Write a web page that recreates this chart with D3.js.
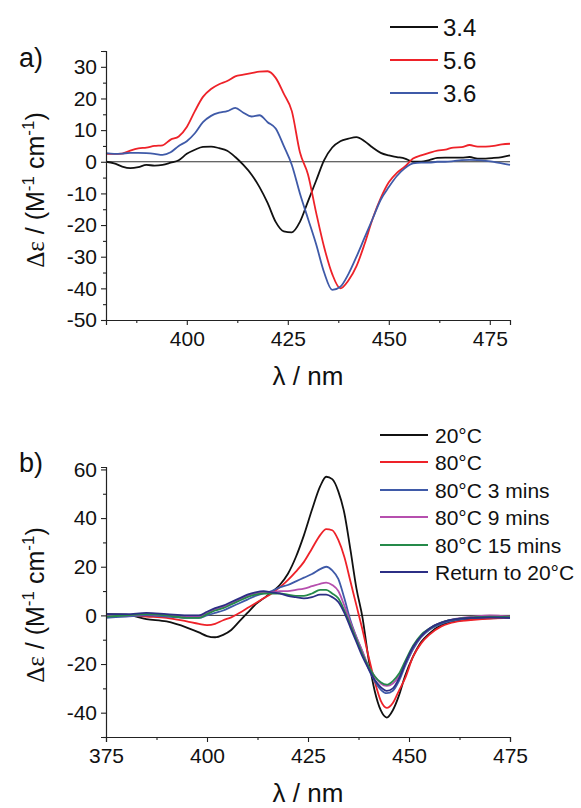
<!DOCTYPE html>
<html>
<head>
<meta charset="utf-8">
<script src="https://cdn.jsdelivr.net/npm/d3@7"></script>
<style>
  body { margin: 0; background: #fff; }
  svg text { font-family: "Liberation Sans", Arial, sans-serif; fill: #111; }
</style>
</head>
<body>
<svg id="chart" width="581" height="808"></svg>
<script>
// ---- panel a data (wavelength in nm, delta epsilon) ----
const wlA = [380,382,384,386,388,390,392,394,396,398,400,402,404,406,408,410,412,414,416,418,
  420,422,424,426,428,430,432,434,436,438,440,442,444,446,448,450,452,454,456,458,
  460,462,464,466,468,470,472,474,476,478,480];
const a34 = [0,-0.5,-1.5,-2,-1.7,-1,-1.2,-1,-0.3,0.5,2.5,3.8,4.7,4.8,4.3,3.5,1.5,-1,-4,-8,
  -13,-19,-22,-22.3,-19,-12.5,-6,0.5,4.5,6.5,7.3,7.8,6.5,4.5,2.8,2,1.5,1,0,0,
  0.5,1.2,1.3,1.3,1.3,1.5,1,1,1.2,1.5,2];
const a56 = [2.5,2.5,2.6,3.5,4.2,4.5,5,5.2,7,8,11,16,20.5,23,24.5,25.5,27,27.5,28,28.5,
  28.6,26.5,21.5,16,3,-4,-16,-27,-35.5,-40,-37.5,-33,-26,-18,-11.5,-6.5,-3.5,-1.5,1,2,
  2.8,3.5,3.8,4.5,4.6,5.3,4.8,4.8,5,5.5,5.7];
const a36 = [2.7,2.5,2.6,2.8,2.8,2.7,2.5,2.2,3,5,6.5,9,12.5,14.5,15.5,16,17,15.5,14.3,14.7,
  12.5,10.5,5,-1,-10,-18,-26,-35,-40.5,-39.5,-35.5,-30,-24,-18,-12,-8,-4.5,-2,-0.5,-0.3,
  -0.3,0,0,0.2,0.5,0.6,0.5,0.3,0,-0.5,-1];
const namesA = ["3.4", "5.6", "3.6"];
const colorsA = ["#111111", "#ee2229", "#3f5aa8"];

// ---- panel b data ----
const wlB = [375,380,385,390,395,398,400,402,404,406,408,410,412,414,416,418,420,422,424,426,
  428,429.5,431,432.5,434,435.5,437,438.5,440,441.5,443,444.5,446,447.5,449,451,453,455,458,460,
  463,466,470,475];
const b20 = [0.5,0.3,-1.5,-2.5,-5,-7,-8.5,-9,-8,-6,-2.5,1,4.5,7,9.5,12.5,17,24,33,43.5,
  53,57,56,51,42,27,11,-1,-18,-31,-39,-42,-39,-33,-25,-17,-11,-7.5,-4,-2.8,
  -2,-1.5,-1.2,-1];
const b80 = [0,0,-0.5,-1,-2.5,-3.5,-4,-3.5,-2,-0.8,1,3,5,7,9,11.5,14.5,18,22,27.5,
  33,35.5,35,31,24,14,4,-6,-17,-27,-35,-38,-36,-31,-26,-17,-11.5,-8,-4.5,-3.3,
  -2.3,-1.8,-1.3,-1];
const b80m3 = [-1,-0.5,0,-0.5,-1,-1,0,1,2,3.5,5,6.5,8,9,10,11.5,12.5,14,15.5,17,
  19,20,18.5,15,7,-2,-9,-15,-22,-27,-30.5,-32,-31,-27,-21,-14,-9,-6,-3.5,-2.5,
  -1.5,-1,-0.8,-1];
const b80m9 = [0,0,0.5,0,-0.5,-0.5,1,2.5,3.5,5,6.5,8,9,9.5,9.5,10,10,10.5,11,12,
  13,13.5,12.5,10,4,-3,-9,-15,-21,-25,-28,-29,-28,-25,-20,-13,-8.5,-5.5,-3,-2,
  -1,-0.5,0,-0.5];
const b80m15 = [-0.5,0,0.5,0,-1,-1,0.5,2,3,4.5,6,7.5,8.5,9,9,9,8.5,8,8,9,
  10.5,10.5,9,7,2,-4,-10,-16,-21,-25,-27.5,-28.5,-27,-24,-19,-12.5,-8,-5.5,-3,-2,
  -1.2,-0.8,-0.5,-0.7];
const bRet = [0.5,0.5,1,0.5,0,0,1.5,3,4,5.5,7,8.5,9.5,10,9.5,9,8,7.5,7,7.5,
  8.5,8.5,7.5,5.5,1,-5,-11,-17,-22,-26.5,-29.5,-31,-30,-26,-20,-13,-8.5,-5.5,-3,-2,
  -1.3,-1,-0.8,-1];
const namesB = ["20°C", "80°C", "80°C 3 mins", "80°C 9 mins", "80°C 15 mins", "Return to 20°C"];
const colorsB = ["#111111", "#ee2229", "#3f5aa8", "#b64fae", "#258a4a", "#2c2f85"];

// tick values
const xTicksA = [400, 425, 450, 475];
const xMinorA = [387.5, 412.5, 437.5, 462.5];
const yTicksA = [-50, -40, -30, -20, -10, 0, 10, 20, 30];
const yMinorA = [-45, -35, -25, -15, -5, 5, 15, 25, 35];
const xTicksB = [375, 400, 425, 450, 475];
const xMinorB = [387.5, 412.5, 437.5, 462.5];
const yTicksB = [-40, -20, 0, 20, 40, 60];
const yMinorB = [-50, -30, -10, 10, 30, 50];

const svg = d3.select("#chart");

function drawPanel(opt) {
  const g = svg.append("g");
  const x = d3.scaleLinear().domain(opt.xDomain).range([106, 510]);
  const y = d3.scaleLinear().domain(opt.yDomain).range([opt.bottom, opt.top]);

  // zero line
  g.append("line")
    .attr("x1", x(opt.xDomain[0])).attr("x2", x(opt.xDomain[1]))
    .attr("y1", y(0)).attr("y2", y(0))
    .attr("stroke", "#333").attr("stroke-width", 1);

  // curves
  const line = d3.line().x((d, i) => x(opt.wl[i])).y(d => y(d)).curve(d3.curveMonotoneX);
  opt.series.forEach((s, k) => {
    g.append("path")
      .attr("d", line(s))
      .attr("fill", "none")
      .attr("stroke", opt.colors[k])
      .attr("stroke-width", 1.8);
  });

  // axes
  g.append("g").attr("transform", `translate(0,${opt.bottom})`)
    .call(d3.axisBottom(x).tickValues(opt.xTicks).tickSize(5).tickPadding(6).tickFormat(d => String(d)));
  g.append("g").attr("transform", `translate(0,${opt.bottom})`)
    .call(d3.axisBottom(x).tickValues(opt.xMinor).tickSize(3).tickFormat(""))
    .select(".domain").remove();
  g.append("g").attr("transform", "translate(106,0)")
    .call(d3.axisLeft(y).tickValues(opt.yTicks).tickSize(5).tickPadding(4).tickFormat(d => String(d)));
  g.append("g").attr("transform", "translate(106,0)")
    .call(d3.axisLeft(y).tickValues(opt.yMinor).tickSize(3).tickFormat(""))
    .select(".domain").remove();

  g.selectAll(".domain").attr("stroke", "#222").attr("stroke-width", 1.2);
  g.selectAll(".tick line").attr("stroke", "#222").attr("stroke-width", 1.1);
  g.selectAll(".tick text").attr("font-size", 21).attr("font-family", "Liberation Sans, Arial, sans-serif").attr("fill", "#111");

  // panel letter
  g.append("text").attr("x", 19).attr("y", opt.top + opt.letterDy)
    .attr("font-size", 27).text(opt.letter);

  // x title
  g.append("text").attr("x", 308).attr("y", opt.bottom + 65)
    .attr("text-anchor", "middle").attr("font-size", 26)
    .text("λ / nm");

  // y title
  const yt = g.append("text")
    .attr("transform", `translate(44,${opt.yTitleY}) rotate(-90)`)
    .attr("text-anchor", "middle").attr("font-size", 25);
  yt.append("tspan").attr("font-family", "Liberation Serif, serif").text("Δε");
  yt.append("tspan").text(" / (M");
  yt.append("tspan").attr("font-size", 17).attr("dy", -10).text("-1");
  yt.append("tspan").attr("dy", 10).text(" cm");
  yt.append("tspan").attr("font-size", 17).attr("dy", -10).text("-1");
  yt.append("tspan").attr("dy", 10).text(")");

  // legend
  opt.names.forEach((n, k) => {
    const ly = opt.legY[k];
    g.append("line")
      .attr("x1", opt.legX).attr("x2", opt.legX + 48)
      .attr("y1", ly).attr("y2", ly)
      .attr("stroke", opt.colors[k]).attr("stroke-width", 1.8);
    g.append("text").attr("x", opt.legX + opt.legGap).attr("y", ly)
      .attr("dy", "0.36em").attr("font-size", opt.legSize).text(n);
  });
}

drawPanel({
  xDomain: [380, 480], yDomain: [-50, 35], top: 51, bottom: 320,
  xTicks: xTicksA, xMinor: xMinorA, yTicks: yTicksA, yMinor: yMinorA,
  wl: wlA, series: [a34, a56, a36], names: namesA, colors: colorsA,
  letter: "a)", letterDy: 16, yTitleY: 190,
  legX: 390, legGap: 53, legY: [27, 60, 93], legSize: 24
});

drawPanel({
  xDomain: [375, 475], yDomain: [-50, 61], top: 467, bottom: 737,
  xTicks: xTicksB, xMinor: xMinorB, yTicks: yTicksB, yMinor: yMinorB,
  wl: wlB, series: [b20, b80, b80m3, b80m9, b80m15, bRet], names: namesB, colors: colorsB,
  letter: "b)", letterDy: 5, yTitleY: 605,
  legX: 380, legGap: 55, legY: [435, 462, 490, 517, 545, 572], legSize: 21
});
</script>
</body>
</html>
